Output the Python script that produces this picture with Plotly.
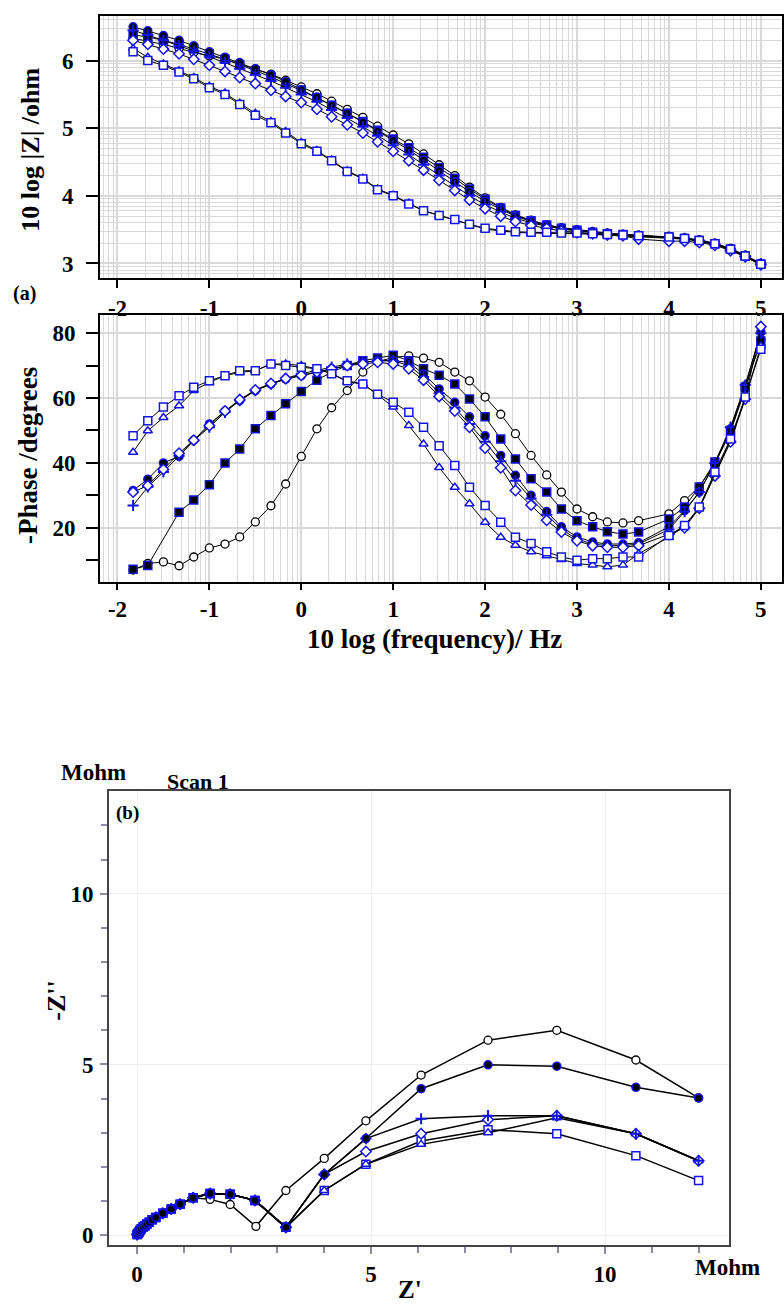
import plotly.graph_objects as go

# ---------------- Bode data (log10 frequency / Hz) ----------------
log_freq = [-1.83, -1.67, -1.5, -1.33, -1.17, -1.0, -0.83, -0.67, -0.5, -0.33, -0.17, 0.0,
            0.17, 0.33, 0.5, 0.67, 0.83, 1.0, 1.17, 1.33, 1.5, 1.67, 1.83, 2.0, 2.17, 2.33,
            2.5, 2.67, 2.83, 3.0, 3.17, 3.33, 3.5, 3.67, 4.0, 4.17, 4.33, 4.5, 4.67, 4.83, 5.0]

# log10 |Z| / ohm
logZ_A = [6.33, 6.29, 6.24, 6.18, 6.12, 6.07, 6.02, 5.95, 5.88, 5.8, 5.71, 5.61, 5.51, 5.4, 5.28, 5.16, 5.03, 4.9, 4.77, 4.62, 4.46, 4.3, 4.13, 3.97, 3.83, 3.72, 3.64, 3.57, 3.53, 3.5, 3.47, 3.45, 3.43, 3.42, 3.4, 3.38, 3.35, 3.3, 3.22, 3.12, 3.0]
logZ_B = [6.38, 6.35, 6.3, 6.24, 6.17, 6.1, 6.02, 5.94, 5.85, 5.76, 5.66, 5.56, 5.45, 5.34, 5.22, 5.1, 4.97, 4.84, 4.71, 4.57, 4.42, 4.26, 4.1, 3.95, 3.82, 3.71, 3.63, 3.57, 3.52, 3.49, 3.46, 3.44, 3.43, 3.41, 3.39, 3.37, 3.34, 3.29, 3.21, 3.11, 2.99]
logZ_C = [6.5, 6.44, 6.37, 6.3, 6.22, 6.13, 6.05, 5.97, 5.88, 5.79, 5.69, 5.57, 5.46, 5.34, 5.22, 5.09, 4.96, 4.82, 4.68, 4.53, 4.37, 4.21, 4.06, 3.92, 3.8, 3.7, 3.62, 3.56, 3.52, 3.49, 3.46, 3.44, 3.43, 3.41, 3.39, 3.37, 3.34, 3.29, 3.22, 3.12, 3.0]
logZ_D = [6.45, 6.38, 6.3, 6.22, 6.14, 6.06, 5.97, 5.88, 5.79, 5.7, 5.6, 5.5, 5.39, 5.27, 5.15, 5.02, 4.89, 4.75, 4.61, 4.46, 4.3, 4.15, 4.0, 3.87, 3.76, 3.67, 3.6, 3.55, 3.51, 3.48, 3.46, 3.44, 3.42, 3.41, 3.39, 3.37, 3.34, 3.29, 3.21, 3.11, 3.0]
logZ_E = [6.3, 6.24, 6.17, 6.1, 6.02, 5.93, 5.84, 5.75, 5.66, 5.56, 5.47, 5.38, 5.28, 5.17, 5.05, 4.93, 4.8, 4.66, 4.52, 4.38, 4.23, 4.08, 3.94, 3.81, 3.7, 3.62, 3.56, 3.52, 3.48, 3.46, 3.44, 3.42, 3.41, 3.36, 3.33, 3.33, 3.31, 3.27, 3.19, 3.1, 2.98]
logZ_F = [6.18, 6.05, 5.95, 5.85, 5.75, 5.62, 5.52, 5.37, 5.22, 5.1, 4.95, 4.79, 4.67, 4.53, 4.37, 4.26, 4.1, 4.01, 3.89, 3.78, 3.71, 3.64, 3.57, 3.51, 3.48, 3.46, 3.45, 3.45, 3.44, 3.44, 3.43, 3.42, 3.41, 3.4, 3.38, 3.36, 3.33, 3.28, 3.2, 3.1, 2.98]
logZ_G = [6.13, 6.0, 5.93, 5.83, 5.73, 5.6, 5.5, 5.35, 5.19, 5.08, 4.93, 4.77, 4.66, 4.52, 4.36, 4.25, 4.09, 4.0, 3.88, 3.78, 3.71, 3.65, 3.58, 3.52, 3.49, 3.47, 3.46, 3.46, 3.45, 3.45, 3.44, 3.43, 3.42, 3.41, 3.39, 3.37, 3.34, 3.29, 3.21, 3.11, 2.99]

# -Phase / degrees
phase_A = [7, 9, 9.5, 8.3, 11, 13.8, 15, 17.2, 21.8, 26.8, 33.5, 42, 50.5, 57, 62.3, 68, 71.2, 72.5, 73, 72.3, 71, 68, 65.3, 60.3, 55, 49, 42.3, 36.3, 31, 25.8, 23.4, 21.8, 21.5, 22.2, 24.3, 28.4, 32.6, 39.7, 49.5, 62.8, 78]
phase_B = [7.2, 8.4, None, 24.8, 28.6, 33.3, 40, 44.3, 50.5, 54.6, 58.2, 62, 65.5, 68, 70, 71.5, 72.3, 73.2, 71.5, 69, 67, 64.3, 59.7, 54.2, 47.4, 41.2, 35.1, 31, 25.8, 22.2, 20.3, 18.8, 18.1, 18.7, 22.7, 26.4, 32.6, 40.3, 50, 63.3, 77.6]
phase_C = [31.5, 35, 40, 42, 47, 52, 56, 59.2, 62.3, 64.3, 65.8, 66.9, 68, 69, 70, 71, 71.5, 71.5, 71, 67.4, 62.8, 58.7, 54.2, 48.4, 42.3, 36.2, 30, 25, 20.3, 17.2, 15.6, 15, 15, 15.4, 20.3, 25.3, 31, 39.7, 50.5, 63.8, 80.3]
phase_D = [26.9, 32.6, 37.2, 42.2, 46.9, 51, 55.6, 59.2, 62.3, 64.3, 66, 67.5, 68.5, 69.5, 70.5, 71, 71.5, 71.5, 70, 66.5, 61.5, 57, 52, 46.5, 40.5, 34.5, 29, 24, 19.5, 16.5, 15, 14.5, 14.5, 15, 19.5, 25, 31, 40, 51, 64, 80]
phase_E = [31, 33, 38, 43, 47, 51.5, 56, 59.5, 62.5, 64.5, 66, 67, 68, 69, 70, 70.5, 71, 70.5, 69, 65.5, 60.5, 56, 51, 44.6, 38.5, 31.5, 27, 22.3, 18.7, 16, 14.5, 14, 14, 14.5, 18, 20, 26, 36, 46.5, 59.7, 82]
phase_F = [43.3, 49.9, 54, 57.6, 62.3, 64.8, 66.9, 67.9, 68.4, 70.5, 70.5, 70, 69, 67.5, 65, 64.3, 61, 57.2, 51.5, 45.8, 38.6, 32.5, 27.4, 21.7, 17.1, 14.6, 12.6, 11.4, 10.2, 9, 8.5, 8, 8.5, 12, 17.1, 20.5, 26, 36.5, 47, 60, 76]
phase_G = [48.4, 53, 57.2, 60.7, 63.3, 65.3, 66.9, 68.4, 68.4, 70.5, 70, 69.5, 69, 67.5, 65.3, 64.3, 61.2, 58.7, 55.6, 51, 45.3, 39.2, 32.5, 26.9, 21.7, 17.1, 15.2, 12.6, 11, 10, 10.5, 10.5, 11, 11, 17.6, 20.7, 26.4, 37.2, 47.4, 60.3, 75]

bode_ticks = [-2, -1, 0, 1, 2, 3, 4, 5]
bode_ticktext = ["-2", "-1", "0", "1", "2", "3", "4", "5"]
logZ_ticks = [3, 4, 5, 6]
phase_ticks = [20, 40, 60, 80]
phase_minor = [10, 30, 50, 70]

# ---------------- Nyquist data (Mohm) ----------------
nyq_arc_re = [0.0, 0.02, 0.04, 0.06, 0.09, 0.13, 0.17, 0.21, 0.26, 0.32, 0.4, 0.55, 0.73, 0.92, 1.2]
nyq_arc_im = [0.02, 0.05, 0.09, 0.14, 0.19, 0.24, 0.28, 0.33, 0.38, 0.45, 0.52, 0.64, 0.77, 0.91, 1.1]
nyqA_re = [1.56, 1.99, 2.54, 3.18, 4.0, 4.89, 6.07, 7.5, 8.97, 10.66, 12.0]
nyqA_im = [1.05, 0.9, 0.26, 1.31, 2.25, 3.35, 4.69, 5.71, 6.0, 5.13, 4.02]
nyq_mid_re = [1.56, 1.99, 2.52, 3.18]
nyq_mid_im = [1.22, 1.2, 1.02, 0.23]
nyq_tail_re = [4.0, 4.89, 6.07, 7.5, 8.97, 10.66, 12.0]
nyqC_im = [1.78, 2.83, 4.29, 4.99, 4.95, 4.33, 4.02]
nyqD_im = [1.78, 2.83, 3.41, 3.5, 3.5, 2.97, 2.18]
nyqE_im = [1.78, 2.45, 2.97, 3.38, 3.5, 2.97, 2.18]
nyqF_im = [1.31, 2.08, 2.66, 3.0, 3.44, 2.97, 2.18]
nyqG_im = [1.31, 2.08, 2.76, 3.09, 2.97, 2.33, 1.6]
nyq_ticks = [0, 5, 10]
nyq_minor = [1, 2, 3, 4, 6, 7, 8, 9, 11, 12]

BLUE = "#1414e6"
FONT = "Liberation Serif"
GRID = "#d9d9d9"

styles = {
    "A": dict(symbol="circle", color="white", line=dict(color="black", width=1.3)),
    "B": dict(symbol="square", color="black", line=dict(color=BLUE, width=1.5)),
    "C": dict(symbol="circle", color="black", line=dict(color=BLUE, width=1.5)),
    "D": dict(symbol="cross-thin", color=BLUE, line=dict(color=BLUE, width=2)),
    "E": dict(symbol="diamond", color="white", line=dict(color=BLUE, width=1.5)),
    "F": dict(symbol="triangle-up", color="white", line=dict(color=BLUE, width=1.5)),
    "G": dict(symbol="square", color="white", line=dict(color=BLUE, width=1.5)),
}

fig = go.Figure()

freq = [10 ** v for v in log_freq]
mag = {"A": logZ_A, "B": logZ_B, "C": logZ_C, "D": logZ_D, "E": logZ_E, "F": logZ_F, "G": logZ_G}
pha = {"A": phase_A, "B": phase_B, "C": phase_C, "D": phase_D, "E": phase_E, "F": phase_F, "G": phase_G}

for k in ["A", "B", "C", "D", "E", "F", "G"]:
    fig.add_trace(go.Scatter(
        x=freq, y=[10 ** v for v in mag[k]], mode="lines+markers",
        line=dict(color="black", width=1), marker=dict(size=8, **styles[k]),
        xaxis="x", yaxis="y", showlegend=False))
for k in ["A", "B", "C", "D", "E", "F", "G"]:
    fig.add_trace(go.Scatter(
        x=freq, y=pha[k], mode="lines+markers", connectgaps=True,
        line=dict(color="black", width=1), marker=dict(size=8, **styles[k]),
        xaxis="x2", yaxis="y2", showlegend=False))

nyq = {
    "A": (nyq_arc_re + nyqA_re, nyq_arc_im + nyqA_im),
    "G": (nyq_arc_re + nyq_mid_re + nyq_tail_re, nyq_arc_im + nyq_mid_im + nyqG_im),
    "F": (nyq_arc_re + nyq_mid_re + nyq_tail_re, nyq_arc_im + nyq_mid_im + nyqF_im),
    "E": (nyq_arc_re + nyq_mid_re + nyq_tail_re, nyq_arc_im + nyq_mid_im + nyqE_im),
    "D": (nyq_arc_re + nyq_mid_re + nyq_tail_re, nyq_arc_im + nyq_mid_im + nyqD_im),
    "B": (nyq_arc_re + nyq_mid_re, nyq_arc_im + nyq_mid_im),
    "C": (nyq_arc_re + nyq_mid_re + nyq_tail_re, nyq_arc_im + nyq_mid_im + nyqC_im),
}
for k, (xr, yi) in nyq.items():
    fig.add_trace(go.Scatter(
        x=xr, y=yi, mode="lines+markers",
        line=dict(color="black", width=1.5), marker=dict(size=8, **styles[k]),
        xaxis="x3", yaxis="y3", showlegend=False))

W, H = 784, 1308
def px(x): return x / W
def py(y): return 1 - y / H

tickfont = dict(family=FONT, size=23, color="black", weight="bold")
frame = dict(showline=True, linecolor="black", linewidth=2, mirror=True, zeroline=False)

def logx(ticklen):
    return dict(type="log", range=[-2.19, 5.23], tickvals=[10 ** t for t in bode_ticks],
                ticktext=bode_ticktext, ticks="outside", ticklen=ticklen, tickwidth=1.5, tickcolor="black",
                showgrid=True, gridcolor=GRID, gridwidth=1.5,
                minor=dict(dtick="D1", showgrid=True, gridcolor=GRID, gridwidth=1.2, ticks=""),
                tickfont=tickfont, **frame)

fig.update_layout(
    width=W, height=H, margin=dict(l=0, r=0, t=0, b=0),
    paper_bgcolor="white", plot_bgcolor="white", showlegend=False,
    xaxis=dict(domain=[px(100), px(782)], anchor="y", **logx(8)),
    yaxis=dict(domain=[py(279), py(16)], anchor="x", type="log", range=[2.78, 6.66],
               tickvals=[10 ** t for t in logZ_ticks], ticktext=[str(t) for t in logZ_ticks],
               ticks="outside", ticklen=12, tickwidth=1.5, tickcolor="black",
               showgrid=True, gridcolor=GRID, gridwidth=1.5, ticklabelstandoff=8,
               minor=dict(dtick="D1", showgrid=True, gridcolor=GRID, gridwidth=1.2, ticks=""),
               tickfont=tickfont, **frame),
    xaxis2=dict(domain=[px(100), px(782)], anchor="y2", **logx(6)),
    yaxis2=dict(domain=[py(583), py(316)], anchor="x2", range=[3.4, 85.5],
                tickvals=phase_ticks, ticktext=[str(t) for t in phase_ticks],
                ticks="outside", ticklen=12, tickwidth=1.5, tickcolor="black",
                showgrid=True, gridcolor=GRID, gridwidth=1.5, ticklabelstandoff=6,
                minor=dict(tickvals=phase_minor, ticks="outside", ticklen=12, tickwidth=1.5,
                           tickcolor="black", showgrid=False),
                tickfont=tickfont, **frame),
    xaxis3=dict(domain=[px(109), px(729)], anchor="y3", range=[-0.6, 12.65],
                tickvals=nyq_ticks, ticktext=[str(t) for t in nyq_ticks],
                ticks="outside", ticklen=7, tickwidth=1.5, tickcolor="#8c8ca8",
                showgrid=True, gridcolor="#eeeef2", gridwidth=1,
                minor=dict(tickvals=nyq_minor, ticks="outside", ticklen=6, tickwidth=1.5,
                           tickcolor="#8c8ca8", showgrid=False),
                tickfont=tickfont, showline=True, linecolor="#444", linewidth=2, mirror=True,
                zeroline=False),
    yaxis3=dict(domain=[py(1248), py(793)], anchor="x3", range=[-0.29, 13.0],
                tickvals=nyq_ticks, ticktext=[str(t) for t in nyq_ticks],
                ticks="outside", ticklen=7, tickwidth=1.5, tickcolor="#8c8ca8",
                showgrid=True, gridcolor="#eeeef2", gridwidth=1, ticklabelstandoff=2,
                minor=dict(tickvals=nyq_minor, ticks="outside", ticklen=6, tickwidth=1.5,
                           tickcolor="#8c8ca8", showgrid=False),
                tickfont=tickfont, showline=True, linecolor="#444", linewidth=2, mirror=True,
                zeroline=False),
)

def ann(text, x, y, size, angle=0, xanchor="center"):
    fig.add_annotation(text=f"<b>{text}</b>", x=px(x), y=py(y), xref="paper", yref="paper",
                       showarrow=False, textangle=angle, xanchor=xanchor, yanchor="middle",
                       font=dict(family=FONT, size=size, color="black"))

ann("10 log |Z| /ohm", 31, 150, 26, angle=-90)
ann("-Phase /degrees", 28, 457, 27, angle=-90)
ann("10 log (frequency)/ Hz", 434, 640, 27)
ann("(a)", 24, 294, 20)
ann("Mohm", 93, 774, 23)
ann("Scan 1", 198, 783, 22)
ann("(b)", 128, 815, 19)
ann("-Z''", 57, 1003, 26, angle=-90)
ann("Mohm", 727, 1270, 23)
ann("Z'", 410, 1292, 25)

fig.write_html("out.html", config={"displayModeBar": False},
               post_script="document.body.style.margin='0';document.body.style.overflow='hidden';")
